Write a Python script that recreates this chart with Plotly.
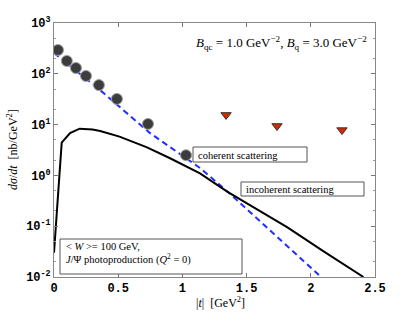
import plotly.graph_objects as go

# coherent data points (circles)
coh_t = [0.031, 0.10, 0.171, 0.249, 0.35, 0.49, 0.732, 1.028]
coh_y = [294, 179, 130, 90.6, 60, 32, 10.3, 2.5]

# incoherent data points (triangles)
inc_t = [1.34, 1.737, 2.243]
inc_y = [15.5, 9.4, 7.8]

# coherent model curve (blue dashed)
cohline_t = [0.0, 0.358, 0.748, 1.137, 1.355, 2.08]
cohline_y = [257, 48, 6.8, 1.4, 0.47, 0.01]

# incoherent model curve (black)
incline_t = [0.0, 0.06, 0.125, 0.2, 0.3, 0.36, 0.51, 0.72, 0.90, 1.137, 1.355, 1.6, 1.815, 2.1, 2.41]
incline_y = [0.03, 4.4, 6.8, 8.3, 8.0, 7.5, 5.8, 3.6, 2.2, 1.1, 0.47, 0.2, 0.096, 0.032, 0.01]

ytick_vals = [1e-2, 1e-1, 1e0, 1e1, 1e2, 1e3]
ytick_text = ["10<sup>-2</sup>", "10<sup>-1</sup>", "10<sup>0</sup>", "10<sup>1</sup>", "10<sup>2</sup>", "10<sup>3</sup>"]
xtick_vals = [0, 0.5, 1, 1.5, 2, 2.5]
xtick_text = ["0", "0.5", "1", "1.5", "2", "2.5"]

fig = go.Figure()
fig.add_trace(go.Scatter(x=cohline_t, y=cohline_y, mode="lines",
                         line=dict(color="#1f2fff", width=2, dash="6px,4px")))
fig.add_trace(go.Scatter(x=incline_t, y=incline_y, mode="lines",
                         line=dict(color="black", width=2)))
fig.add_trace(go.Scatter(x=coh_t, y=coh_y, mode="markers",
                         marker=dict(symbol="circle", size=11, color="#3c3c3c",
                                     line=dict(color="#a0a0a0", width=1))))
fig.add_trace(go.Scatter(x=inc_t, y=inc_y, mode="markers",
                         marker=dict(symbol="triangle-down", size=9, color="#d42a00",
                                     line=dict(color="#333333", width=1))))

W, H = 415, 312
L, R, T, B = 54, 40, 23, 35
pw, ph = W - L - R, H - T - B

def px(x):
    return (x - L) / pw

def py(y):
    return (H - B - y) / ph

serif = "Liberation Serif"
shapes = []
for (x0, x1, y0, y1) in [(193, 307, 147, 162), (241, 364, 182, 196), (60, 242, 239, 274)]:
    shapes.append(dict(type="rect", xref="paper", yref="paper",
                       x0=px(x0), x1=px(x1), y0=py(y1), y1=py(y0),
                       line=dict(color="#555555", width=1), fillcolor="white", layer="above"))

annotations = [
    dict(text="coherent scattering", x=px(196), y=py(155), xanchor="left", yanchor="middle"),
    dict(text="incoherent scattering", x=px(244), y=py(189), xanchor="left", yanchor="middle"),
    dict(text="&lt; <i>W</i> &gt;= 100 GeV,", x=px(64), y=py(246), xanchor="left", yanchor="middle"),
    dict(text="<i>J</i>/Ψ photoproduction (<i>Q</i><sup>2</sup> = 0)", x=px(64), y=py(259), xanchor="left", yanchor="middle"),
]
for a in annotations:
    a.update(xref="paper", yref="paper", showarrow=False, font=dict(family=serif, size=10.5, color="black"))
annotations.append(dict(text="<i>B</i><sub>qc</sub> = 1.0 GeV<sup>−2</sup>, <i>B</i><sub>q</sub> = 3.0 GeV<sup>−2</sup>",
                        x=px(369), y=py(43), xanchor="right", yanchor="middle", xref="paper", yref="paper",
                        showarrow=False, font=dict(family=serif, size=13, color="black")))
annotations.append(dict(text="<i>dσ</i>/<i>dt</i>  [nb/GeV<sup>2</sup>]", x=px(12), y=py(150), xref="paper", yref="paper",
                        textangle=-90, showarrow=False, xanchor="center", yanchor="middle",
                        font=dict(family=serif, size=12, color="black")))
annotations.append(dict(text="|<i>t</i>|  [GeV<sup>2</sup>]", x=px(221), y=py(302), xref="paper", yref="paper",
                        showarrow=False, xanchor="center", yanchor="middle",
                        font=dict(family=serif, size=12, color="black")))

fig.update_layout(
    width=W, height=H, margin=dict(l=L, r=R, t=T, b=B),
    plot_bgcolor="white", paper_bgcolor="white", showlegend=False,
    shapes=shapes, annotations=annotations,
    xaxis=dict(range=[0, 2.5], tickvals=xtick_vals, ticktext=xtick_text,
               ticks="inside", ticklen=4, tickcolor="#777", showline=True, linecolor="#888",
               linewidth=1, mirror="allticks", showgrid=False, zeroline=False,
               tickfont=dict(family="Liberation Mono", size=12, color="black", weight="bold")),
    yaxis=dict(type="log", range=[-2, 3], tickvals=ytick_vals, ticktext=ytick_text,
               ticks="inside", ticklen=4, tickcolor="#777", showline=True, linecolor="#888",
               linewidth=1, mirror="allticks", showgrid=False, zeroline=False,
               minor=dict(ticks="inside", ticklen=2, tickcolor="#999"),
               tickfont=dict(family="Liberation Mono", size=12, color="black", weight="bold")),
)

fig.write_html("out.html", config={"displayModeBar": False},
               post_script="document.body.style.margin='0px';")
